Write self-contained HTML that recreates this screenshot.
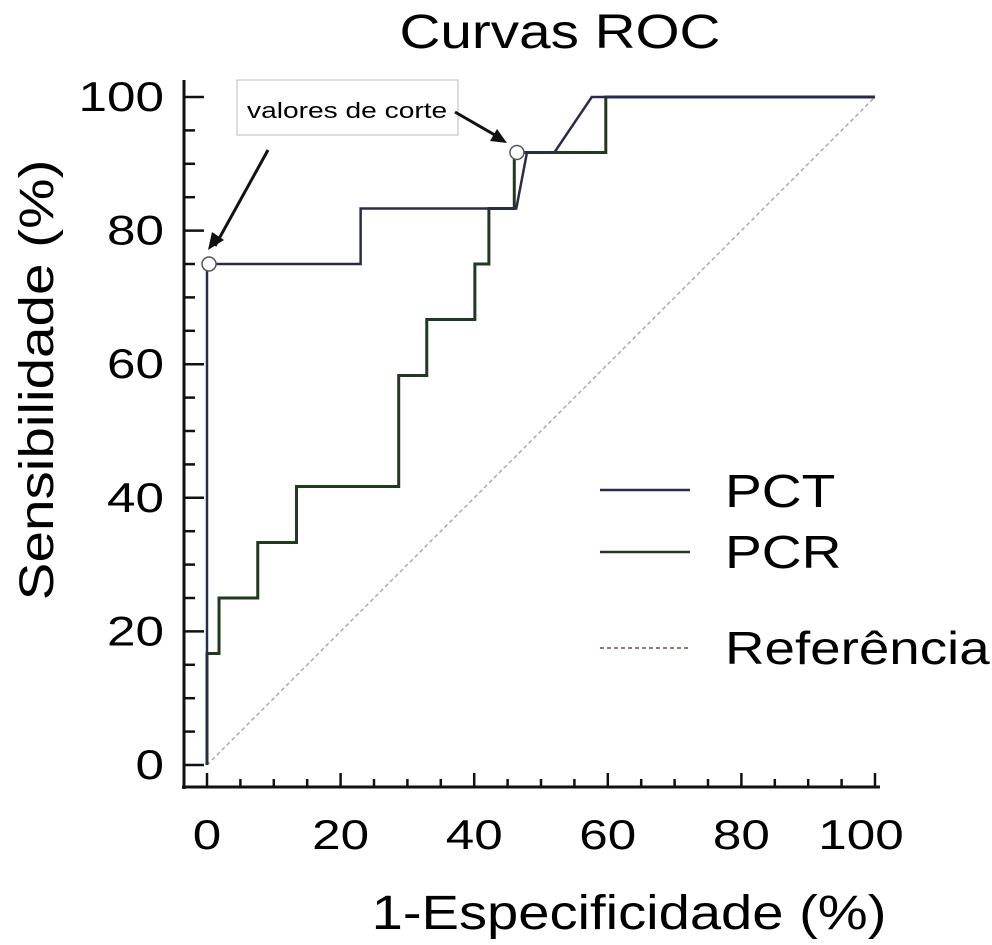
<!DOCTYPE html>
<html><head><meta charset="utf-8"><style>
html,body{margin:0;padding:0;background:#fff;}
svg{display:block;font-family:"Liberation Sans",sans-serif;}
</style></head><body>
<svg width="992" height="945" viewBox="0 0 992 945">
<text transform="translate(560,48) scale(1.18,1)" font-size="48" text-anchor="middle">Curvas ROC</text>
<g id="axes"></g>
<g id="marks"></g>
<text transform="translate(53,380) rotate(-90) scale(1.18,1)" font-size="48" text-anchor="middle">Sensibilidade (%)</text>
<text transform="translate(629,929) scale(1.17,1)" font-size="48" text-anchor="middle">1-Especificidade (%)</text>
<rect x="237" y="80" width="221" height="55" fill="#fff" stroke="#bbb"/>
<text transform="translate(247,118) scale(1.28,1)" font-size="22">valores de corte</text>
<line x1="268" y1="150" x2="215" y2="246" stroke="#111" stroke-width="3"/>
<path d="M208,250 L212,232 L224,240 z" fill="#111"/>
<line x1="455" y1="112" x2="500" y2="138" stroke="#111" stroke-width="3"/>
<path d="M507,143 L490,141 L497,129 z" fill="#111"/>
<g>
<line x1="600" y1="490" x2="690" y2="490" stroke="#2a2a4a" stroke-width="2.5"/>
<text transform="translate(725,507) scale(1.2,1)" font-size="46">PCT</text>
<line x1="600" y1="552" x2="690" y2="552" stroke="#1f3a1f" stroke-width="2.5"/>
<text transform="translate(725,568) scale(1.2,1)" font-size="46">PCR</text>
<line x1="600" y1="648" x2="690" y2="648" stroke="#7a4a4a" stroke-width="1.5" stroke-dasharray="4,3"/>
<text transform="translate(725,664) scale(1.19,1)" font-size="46">Referência</text>
</g>
</svg>
<script>
const pctX=[0,0,23,23,46.3,47.9,52,57.6,100];
const pctY=[0,75,75,83.3,83.3,91.7,91.7,100,100];
const pcrX=[0,0,1.8,1.8,7.6,7.6,13.4,13.4,28.7,28.7,32.9,32.9,40.1,40.1,42.2,42.2,46,46,59.7,59.7,100];
const pcrY=[0,16.7,16.7,25,25,33.3,33.3,41.7,41.7,58.3,58.3,66.7,66.7,75,75,83.3,83.3,91.7,91.7,100,100];
const refX=[0,100];
const refY=[0,100];
const cutX=[0.3,46.4];
const cutY=[75,91.7];
const xTicks=[0,20,40,60,80,100];
const yTicks=[0,20,40,60,80,100];
const NS="http://www.w3.org/2000/svg";
const sx=v=>207+v*6.68, sy=v=>765-v*6.68;
const axes=document.getElementById('axes'), marks=document.getElementById('marks');
function mk(tag,attrs,parent){const e=document.createElementNS(NS,tag);for(const k in attrs)e.setAttribute(k,attrs[k]);parent.appendChild(e);return e;}
let e=mk('line',{x1:184,y1:80,x2:184,y2:789,stroke:'#111','stroke-width':3},axes);


e=mk('line',{x1:182,y1:787,x2:880,y2:787,stroke:'#111','stroke-width':3},axes);


for(let v=0;v<=100;v+=5){const t=mk('line',{x1:184,y1:sy(v),x2:184+(v%20===0?20:11),y2:sy(v),stroke:'#111','stroke-width':2.5},axes);

}
for(let v=0;v<=100;v+=5){const t=mk('line',{x1:sx(v),y1:787,x2:sx(v),y2:787-(v%20===0?14:8),stroke:'#111','stroke-width':2.5},axes);

}
yTicks.forEach(v=>{const t=mk('text',{transform:'translate(164,'+(sy(v)+14)+') scale(1.22,1)','font-size':42,'text-anchor':'end'},axes);t.textContent=v;

});
xTicks.forEach(v=>{const t=mk('text',{transform:'translate('+(sx(v)-(v===100?14:0))+',849) scale(1.22,1)','font-size':42,'text-anchor':'middle'},axes);t.textContent=v;

});
function pts(X,Y){return X.map((x,i)=>sx(x)+','+sy(Y[i])).join(' ');}
e=mk('polyline',{points:pts(refX,refY),fill:'none',stroke:'#aaa','stroke-width':1.5,'stroke-dasharray':'4,3'},marks);


e=mk('polyline',{points:pts(pcrX,pcrY),fill:'none',stroke:'#1f3a1f','stroke-width':3},marks);


e=mk('polyline',{points:pts(pctX,pctY),fill:'none',stroke:'#2a2a4a','stroke-width':2.5},marks);


cutX.forEach((x,i)=>{const c=mk('circle',{cx:sx(x),cy:sy(cutY[i]),r:7,fill:'#fff',stroke:'#556','stroke-width':1.5},marks);

});
</script>
</body></html>
